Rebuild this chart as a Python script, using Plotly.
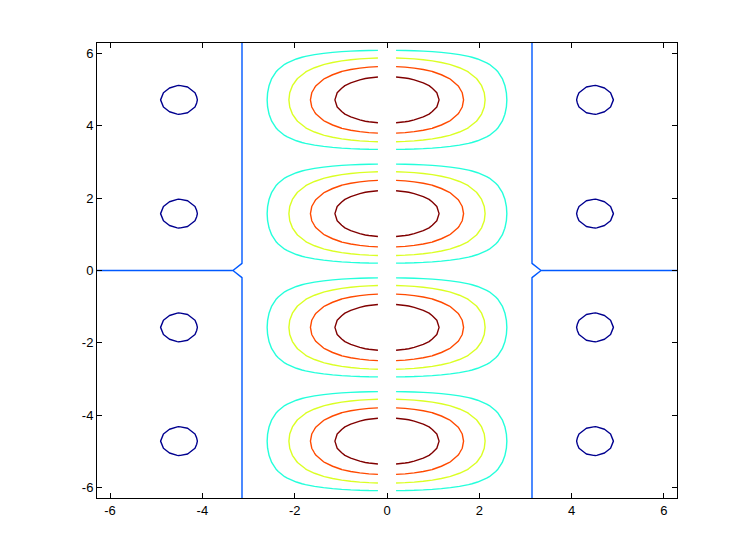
import numpy as np
import plotly.graph_objects as go

# Grid: -2*pi : pi/16 : 2*pi  (x = 0 column is 0/0 -> undefined, so it is left out)
x_steps = np.arange(-32, 33)
y_steps = np.arange(-32, 33)
x = np.pi * x_steps / 16
y = np.pi * y_steps / 16

# contour levels and their jet colours
levels = [-0.2, 0.0, 0.2, 0.4, 0.6, 0.8]
level_colors = ["#00008f", "#0059ff", "#24ffdb", "#dbff24", "#ff4a00", "#800000"]

tick_vals = [-6, -4, -2, 0, 2, 4, 6]
tick_text = ["-6", "-4", "-2", "0", "2", "4", "6"]


def surface(xs, ys):
    X, Y = np.meshgrid(xs, ys)
    return np.sin(X) / X * np.abs(np.sin(Y))


halves = [x[x < 0], x[x > 0]]

fig = go.Figure()
for xs in halves:
    z = surface(xs, y)
    for lev, col in zip(levels, level_colors):
        eff = lev - 1e-30  # values equal to the level count as "above" (MATLAB style)
        fig.add_trace(go.Contour(
            x=xs, y=y, z=z,
            autocontour=False,
            contours=dict(start=eff, end=eff, size=1, coloring="none", showlabels=False),
            line=dict(color=col, width=1.4, smoothing=0),
            showscale=False, hoverinfo="skip",
        ))

axis_common = dict(
    range=[-2 * np.pi, 2 * np.pi],
    showline=True, linecolor="black", linewidth=1, mirror="allticks",
    ticks="inside", ticklen=5, tickcolor="black", tickwidth=1,
    showgrid=False, zeroline=False,
    tickvals=tick_vals, ticktext=tick_text,
    tickfont=dict(family="Liberation Sans, Arial, sans-serif", size=13, color="black"),
)

fig.update_layout(
    width=739, height=552,
    paper_bgcolor="white", plot_bgcolor="white",
    margin=dict(l=89, r=70, t=35, b=62),
    showlegend=False,
    xaxis=axis_common,
    yaxis=axis_common,
)

fig.write_html("out.html")
